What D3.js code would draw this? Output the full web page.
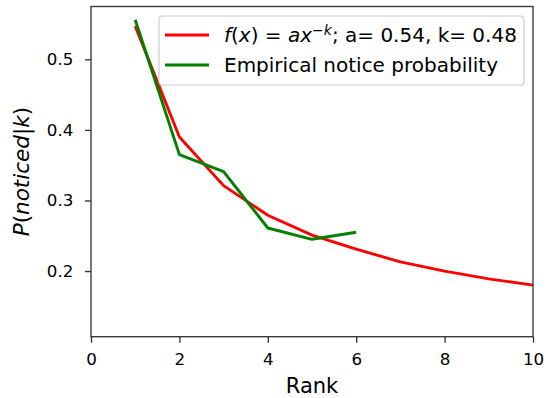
<!DOCTYPE html>
<html><head><meta charset="utf-8">
<script src="https://cdn.jsdelivr.net/npm/d3@7"></script>
<style>body{margin:0;background:#fff}svg{display:block}text{font-family:"DejaVu Sans",sans-serif;fill:#000}</style>
</head><body><svg id="c" width="548" height="398"></svg>
<script>
const fitX = [1,2,3,4,5,6,7,8,9,10];
const fitY = [0.547,0.390,0.321,0.279,0.251,0.231,0.213,0.200,0.189,0.180];
const empX = [1,2,3,4,5,6];
const empY = [0.556,0.365,0.341,0.261,0.245,0.255];
const xTicks = [0,2,4,6,8,10];
const yTicks = [0.2,0.3,0.4,0.5];

const svg = d3.select("#c");
const L=91, R=533, T=6.5, B=336.7;
const x = d3.scaleLinear().domain([0,10]).range([L,R]);
const y = d3.scaleLinear().domain([0.107,0.5748]).range([B,T]);

const line = d3.line().x(d=>x(d[0])).y(d=>y(d[1]));
const g = svg.append("g");
svg.append("clipPath").attr("id","cl").append("rect").attr("x",L).attr("y",T).attr("width",R-L).attr("height",B-T);
g.append("path").datum(fitX.map((v,i)=>[v,fitY[i]])).attr("d",line).attr("fill","none").attr("stroke","#ff0000").attr("stroke-width",2.9).attr("stroke-linejoin","round").attr("stroke-linecap","butt").attr("clip-path","url(#cl)");
g.append("path").datum(empX.map((v,i)=>[v,empY[i]])).attr("d",line).attr("fill","none").attr("stroke","#008000").attr("stroke-width",2.9).attr("stroke-linejoin","round").attr("stroke-linecap","butt");

const xa = svg.append("g").attr("transform",`translate(0,${B})`).call(d3.axisBottom(x).tickValues(xTicks).tickSize(6).tickPadding(10.5).tickFormat(d3.format("d")));
const ya = svg.append("g").attr("transform",`translate(${L},0)`).call(d3.axisLeft(y).tickValues(yTicks).tickSize(6).tickPadding(11.7).tickFormat(d3.format(".1f")));
[xa,ya].forEach(a=>{a.select(".domain").remove();a.selectAll("line").attr("stroke","#333").attr("stroke-width",1.33);a.selectAll("text").attr("font-family","DejaVu Sans").attr("font-size",16.7).attr("fill","#000");});
svg.append("rect").attr("x",L).attr("y",T).attr("width",R-L).attr("height",B-T).attr("fill","none").attr("stroke","#333").attr("stroke-width",1.33);

svg.append("text").attr("x",(L+R)/2).attr("y",393).attr("text-anchor","middle").attr("font-size",21).text("Rank");
const yl = svg.append("text").attr("transform",`translate(29,${(T+B)/2}) rotate(-90)`).attr("text-anchor","middle").attr("font-size",21.5);
yl.append("tspan").attr("font-style","italic").text("P");
yl.append("tspan").text("(");
yl.append("tspan").attr("font-style","italic").text("noticed");
yl.append("tspan").text("|");
yl.append("tspan").attr("font-style","italic").text("k");
yl.append("tspan").text(")");

// legend
const lg = svg.append("g");
lg.append("rect").attr("x",159).attr("y",16).attr("width",365).attr("height",69).attr("rx",3.5).attr("fill","#fff").attr("fill-opacity",0.8).attr("stroke","#cccccc").attr("stroke-width",1.2);
const items=[{c:"#ff0000",y:35},{c:"#008000",y:65}];
items.forEach(it=>lg.append("line").attr("x1",165).attr("x2",209).attr("y1",it.y).attr("y2",it.y).attr("stroke",it.c).attr("stroke-width",2.9));
const t1 = lg.append("text").attr("x",224).attr("y",35).attr("dy","0.36em").attr("font-size",20);
t1.append("tspan").attr("font-style","italic").text("f");
t1.append("tspan").text("(");
t1.append("tspan").attr("font-style","italic").text("x");
t1.append("tspan").text(") = ");
t1.append("tspan").attr("font-style","italic").text("ax");
t1.append("tspan").attr("font-size",14).attr("dy","-0.55em").text("−");
t1.append("tspan").attr("font-size",14).attr("font-style","italic").text("k");
t1.append("tspan").attr("dy","0.385em").text("; a= 0.54, k= 0.48");
lg.append("text").attr("x",224).attr("y",65).attr("dy","0.36em").attr("font-size",20).text("Empirical notice probability");
</script></body></html>
